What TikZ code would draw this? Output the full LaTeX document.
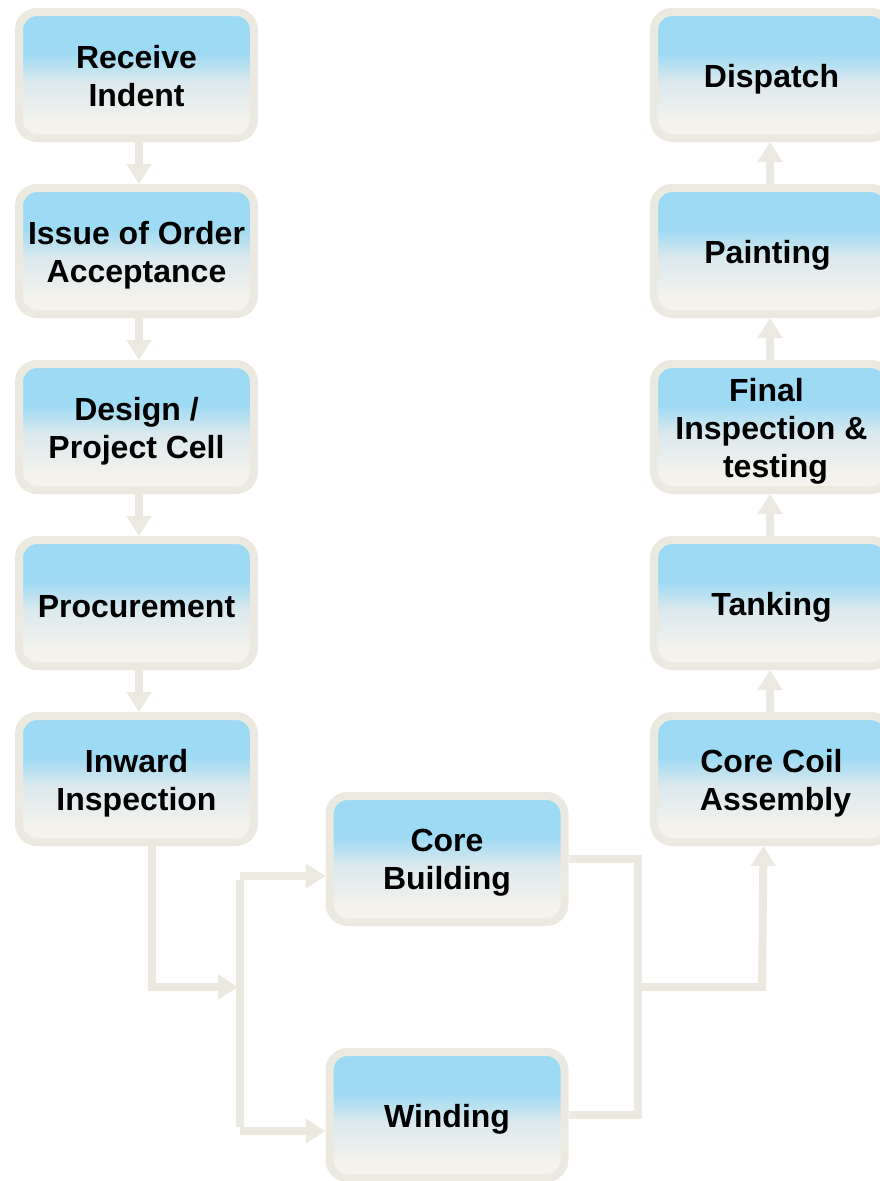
\documentclass[tikz,border=0pt]{standalone}
\usepackage{fontspec}
\setmainfont{Liberation Sans}
\usetikzlibrary{arrows.meta}
\definecolor{edge}{HTML}{ECEAE0}
\definecolor{sky}{HTML}{9DDAF3}
\definecolor{pale}{HTML}{DCE9EE}
\definecolor{cream}{HTML}{F4F2EC}
\pgfdeclareverticalshading{boxshade}{100bp}{color(0bp)=(cream); color(25bp)=(cream); color(31bp)=(cream); color(47bp)=(pale); color(59bp)=(sky); color(75bp)=(sky); color(100bp)=(sky)}
\tikzset{
  stepbox/.style={draw=edge, line width=8pt, rounded corners=18pt, shading=boxshade,
    minimum width=235pt, minimum height=126pt, inner sep=0pt},
  lbl/.style={align=center, yshift=-4pt, inner sep=0pt,
    font=\fontsize{32}{38}\selectfont\bfseries, text=black},
  link/.style={draw=edge, line width=8pt},
  arr/.style={link, -{Triangle[length=20pt,width=24pt]}}
}
\begin{document}
\begin{tikzpicture}[x=1pt,y=-1pt]
\useasboundingbox (0,0) rectangle (880,1181);
% left column
\node[stepbox, label={[lbl,yshift=3pt]center:{Receive\\Indent}}] (b1) at (136.5,75) {};
\node[stepbox, label={[lbl]center:{Issue of Order\\Acceptance}}] (b2) at (136.5,251) {};
\node[stepbox, label={[lbl]center:{Design /\\Project Cell}}] (b3) at (136.5,427) {};
\node[stepbox, label={[lbl]center:{Procurement}}] (b4) at (136.5,603) {};
\node[stepbox, label={[lbl]center:{Inward\\Inspection}}] (b5) at (136.5,779) {};
% middle
\node[stepbox, label={[lbl]center:{Core\\Building}}] (cb) at (447,859) {};
\node[stepbox, label={[lbl]center:{Winding}}] (wd) at (447,1115) {};
% right column
\node[stepbox, label={[lbl]center:{Dispatch}}] (r1) at (771.5,75) {};
\node[stepbox, label={[lbl]center:{Painting\hspace*{8pt}}}] (r2) at (771.5,251) {};
\node[stepbox, label={[lbl]center:{Final\hspace*{10pt}\\Inspection \&\\\hspace*{8pt}testing}}] (r3) at (771.5,427) {};
\node[stepbox, label={[lbl]center:{Tanking}}] (r4) at (771.5,603) {};
\node[stepbox, label={[lbl]center:{Core Coil\\\hspace*{8pt}Assembly}}] (r5) at (771.5,779) {};
% left arrows
\foreach \a/\b in {b1/b2,b2/b3,b3/b4,b4/b5}
  \draw[arr] ([xshift=2.5pt]\a.south) -- ([xshift=2.5pt]\b.north);
% right arrows
\foreach \a/\b in {r5/r4,r4/r3,r3/r2,r2/r1}
  \draw[arr] ([xshift=-1.5pt]\a.north) -- ([xshift=-1.5pt]\b.south);
% junctions
\coordinate (j1) at (238,987);
\coordinate (j2) at (240,876);
\coordinate (j3) at (240,1131);
\coordinate (j5) at (638,987);
\coordinate (j6) at (766,987);
\draw[arr] ([xshift=15.5pt]b5.south) |- (j1);
\draw[link] ([yshift=-4pt]j2) -- ([yshift=4pt]j3);
\draw[arr] (j2) -- (cb.west |- j2);
\draw[arr] (j3) -- (wd.west |- j3);
\draw[link] (cb.east) -| (j5) |- (wd.east);
\draw[link] (j5) -- (j6);
\draw[arr] ([xshift=-4pt]j6) -- ([xshift=-8pt]r5.south);
\end{tikzpicture}
\end{document}
